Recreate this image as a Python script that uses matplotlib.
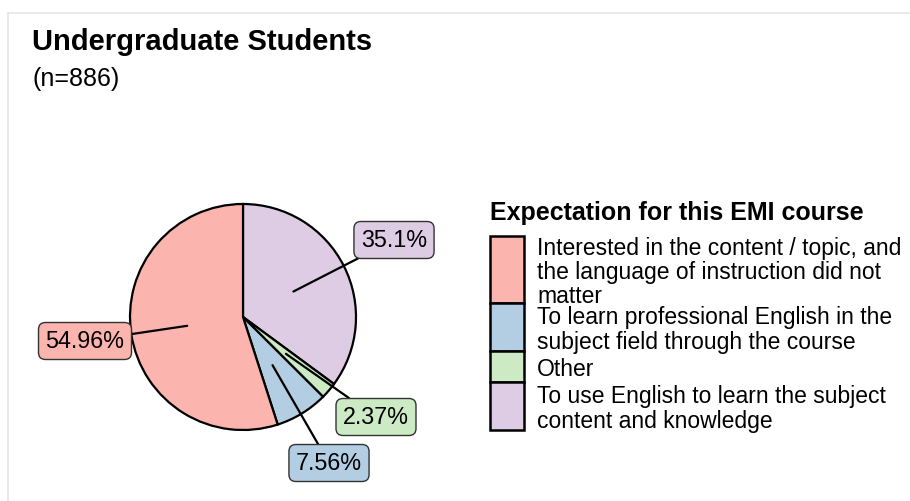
import numpy as np
import matplotlib
matplotlib.use("Agg")
import matplotlib.pyplot as plt
from matplotlib.patches import Rectangle
from matplotlib.lines import Line2D

plt.rcParams["font.family"] = ["Liberation Sans", "DejaVu Sans"]

# survey answers, in the order they go round the pie (clockwise from 12 o'clock)
categories = [
    "To use English to learn the subject\ncontent and knowledge",
    "Other",
    "To learn professional English in the\nsubject field through the course",
    "Interested in the content / topic, and\nthe language of instruction did not\nmatter",
]
shares = [35.1, 2.37, 7.56, 54.96]
labels = ["35.1%", "2.37%", "7.56%", "54.96%"]
colors = ["#DECBE4", "#CCEBC5", "#B3CDE3", "#FBB4AE"]

# legend order (alphabetical, like the factor levels)
legend_order = [3, 2, 1, 0]

W, H = 910, 501
fig = plt.figure(figsize=(W / 100, H / 100), dpi=100)
ax = fig.add_axes([0, 0, 1, 1])

# work in pixel units, y measured up from the bottom
cx, cy, r = 243, H - 317, 113
wedges, _ = ax.pie(shares, colors=colors, startangle=90, counterclock=False,
                   center=(cx, cy), radius=r,
                   wedgeprops=dict(edgecolor="black", linewidth=1.6))
ax.set_xlim(0, W)
ax.set_ylim(0, H)
ax.set_aspect("auto")
ax.axis("off")

# repelled labels: anchor halfway out along each slice's middle angle
label_pos = [(394, H - 240), (376, H - 417), (329, H - 463), (85, H - 341)]
cum = np.cumsum([0] + shares[:-1])
for i, s in enumerate(shares):
    mid = np.deg2rad(90 - (cum[i] + s / 2) / 100 * 360)
    px, py = cx + 0.5 * r * np.cos(mid), cy + 0.5 * r * np.sin(mid)
    ax.annotate(labels[i], xy=(px, py), xytext=label_pos[i],
                ha="center", va="center", fontsize=16.8,
                bbox=dict(boxstyle="round,pad=0.3,rounding_size=0.3",
                          fc=colors[i], ec="#333333", lw=1.0),
                arrowprops=dict(arrowstyle="-", color="black", lw=1.6,
                                shrinkA=0, shrinkB=0))

# titles
fig.text(32 / W, 1 - 42 / H, "Undergraduate Students", fontsize=21,
         fontweight="bold", va="center", ha="left")
fig.text(32 / W, 1 - 79 / H, "(n=886)", fontsize=18, va="center", ha="left")

# legend drawn by hand
fig.text(490 / W, 1 - 213 / H, "Expectation for this EMI course", fontsize=18,
         fontweight="bold", va="center", ha="left")
key_h = {1: 31, 2: 48, 3: 67}
y = 236
for k in legend_order:
    h = key_h[categories[k].count("\n") + 1]
    fig.add_artist(Rectangle((490 / W, 1 - (y + h) / H), 34 / W, h / H,
                             transform=fig.transFigure, fc=colors[k],
                             ec="black", lw=1.8))
    fig.text(537 / W, 1 - (y + h / 2 + 3) / H, categories[k], fontsize=16.5,
             va="center", ha="left", linespacing=1.07)
    y += h

# faint frame edge along the top and left
fig.add_artist(Line2D([8 / W, 1], [1 - 12.5 / H, 1 - 12.5 / H],
                      transform=fig.transFigure, color="#e6e6e6", lw=1.2))
fig.add_artist(Line2D([8 / W, 8 / W], [0, 1 - 12.5 / H],
                      transform=fig.transFigure, color="#e6e6e6", lw=1.2))

fig.savefig("out.png", dpi=100, facecolor="white")
